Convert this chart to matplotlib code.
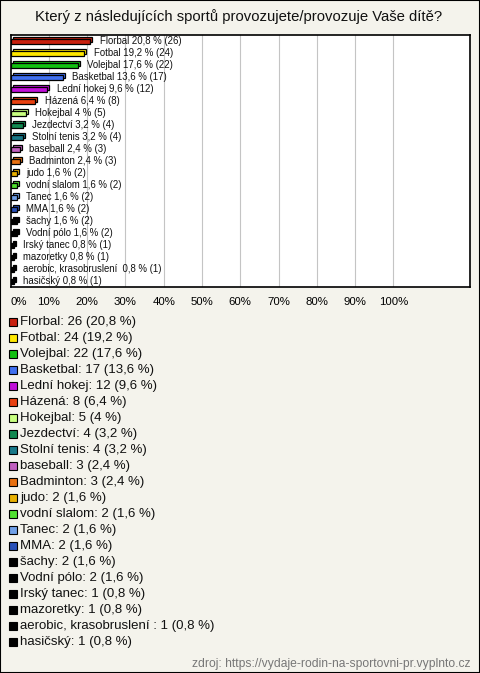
import matplotlib.pyplot as plt
from matplotlib.patches import Rectangle

plt.rcParams['font.family'] = ['Liberation Sans', 'DejaVu Sans']

sports = ["Florbal", "Fotbal", "Volejbal", "Basketbal", "Lední hokej", "Házená",
          "Hokejbal", "Jezdectví", "Stolní tenis", "baseball", "Badminton", "judo",
          "vodní slalom", "Tanec", "MMA", "šachy", "Vodní pólo", "Irský tanec",
          "mazoretky", "aerobic, krasobruslení ", "hasičský"]
counts = [26, 24, 22, 17, 12, 8, 5, 4, 4, 3, 3, 2, 2, 2, 2, 2, 2, 1, 1, 1, 1]
percents = [20.8, 19.2, 17.6, 13.6, 9.6, 6.4, 4, 3.2, 3.2, 2.4, 2.4, 1.6,
            1.6, 1.6, 1.6, 1.6, 1.6, 0.8, 0.8, 0.8, 0.8]
colors = ["#c8200e", "#ffe800", "#10c010", "#4070f0", "#c010d8", "#e84010",
          "#c8ff80", "#108850", "#187888", "#c060c0", "#e87010", "#e8b000",
          "#50e030", "#70a0e8", "#2850b8", "#000000", "#000000", "#000000",
          "#000000", "#000000", "#000000"]
ticks = [0, 10, 20, 30, 40, 50, 60, 70, 80, 90, 100]

W, H = 480, 673
bg = "#f4f3ec"


def fmt(p):
    s = f"{p:g}"
    return s.replace(".", ",")


fig = plt.figure(figsize=(W / 100, H / 100), dpi=100, facecolor=bg)
fig.add_artist(Rectangle((0, 0), 1, 1, transform=fig.transFigure,
                         fill=False, edgecolor="black", linewidth=1.5))

fig.text(239 / W, 1 - 17 / H,
         "Který z následujících sportů provozujete/provozuje Vaše dítě?",
         ha="center", va="center", fontsize=10.7, color="#111111")

ax = fig.add_axes([10.5 / W, 1 - 287 / H, 459.5 / W, 252 / H])
ax.set_facecolor("white")
ax.set_xlim(0, 120)
ax.set_ylim(len(sports) - 0.5, -0.5)

for t in ticks[1:]:
    ax.axvline(t, color="#c4c4c4", linewidth=0.8, zorder=0)

ypos = list(range(len(sports)))
# back face of the 3D bars, shifted up and right
ax.barh([y - 0.1 for y in ypos], percents, left=0.55, height=0.42,
        color=colors, edgecolor="black", linewidth=0.9, zorder=2)
ax.barh([y + 0.08 for y in ypos], percents, height=0.42,
        color=colors, edgecolor="black", linewidth=0.9, zorder=3)

for y, name, c, p in zip(ypos, sports, counts, percents):
    ax.annotate(f"{name} {fmt(p)} % ({c})", (p, y), xytext=(9.5, 0),
                textcoords="offset pixels",
                ha="left", va="center", fontsize=6.9, color="#111111", zorder=4)

ax.set_xticks(ticks)
ax.set_xticklabels([f"{t}%" for t in ticks], fontsize=8.2)
ax.get_xticklabels()[0].set_horizontalalignment("left")
ax.tick_params(axis="x", length=0, pad=7)
ax.set_yticks([])
for s in ax.spines.values():
    s.set_linewidth(1.2)
    s.set_color("black")

# legend
for i, (name, c, p, col) in enumerate(zip(sports, counts, percents, colors)):
    yc = 1 - (322 + 16 * i) / H
    fig.add_artist(Rectangle((9 / W, yc - 4 / H), 8 / W, 8 / H,
                             transform=fig.transFigure, facecolor=col,
                             edgecolor="black", linewidth=0.8))
    fig.text(20.5 / W, yc, f"{name}: {c} ({fmt(p)} %)", ha="left", va="center",
             fontsize=9.5, color="#111111")

fig.text(470 / W, 1 - 664 / H,
         "zdroj: https://vydaje-rodin-na-sportovni-pr.vyplnto.cz",
         ha="right", va="center", fontsize=8.7, color="#777777")

fig.savefig("out.png", dpi=100, facecolor=bg)
